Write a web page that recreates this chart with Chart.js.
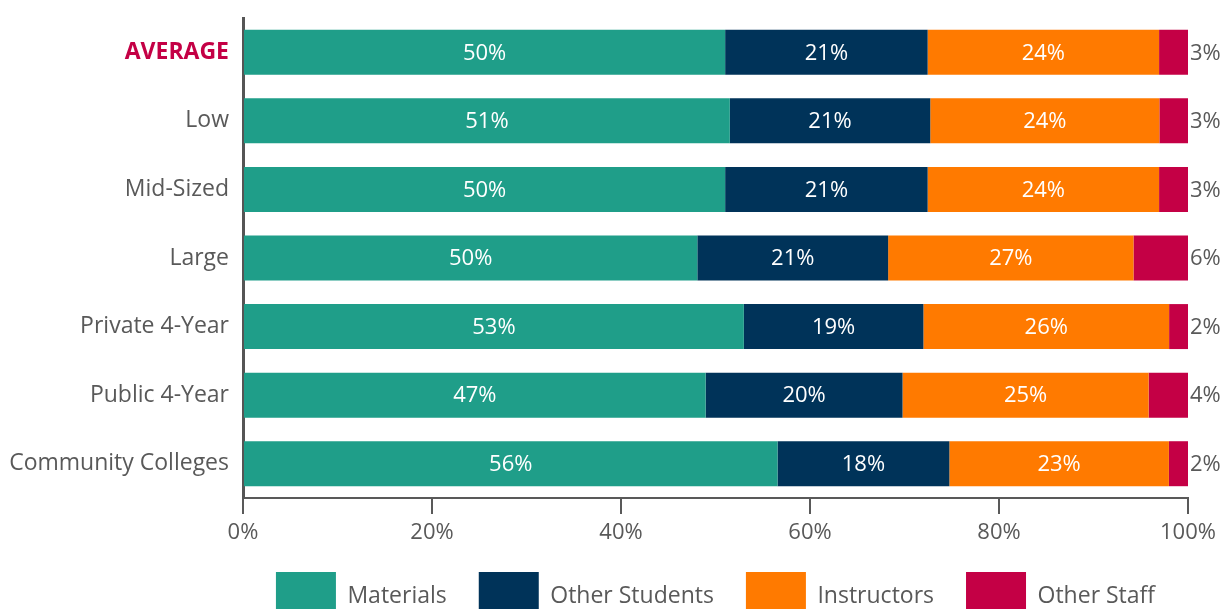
<!DOCTYPE html>
<html>
<head>
<meta charset="utf-8">
<script src="https://cdn.jsdelivr.net/npm/chart.js@4.4.1/dist/chart.umd.min.js"></script>
<style>
  html, body { margin: 0; padding: 0; background: #fff; overflow: hidden; }
  #wrap { position: relative; width: 1225px; height: 630px; }
</style>
</head>
<body>
<div id="wrap"><canvas id="barchart"></canvas></div>
<script>
// spending share by school type
var categories = ["AVERAGE", "Low", "Mid-Sized", "Large", "Private 4-Year", "Public 4-Year", "Community Colleges"];
var materials = [50, 51, 50, 50, 53, 47, 56];
var otherStudents = [21, 21, 21, 21, 19, 20, 18];
var instructors = [24, 24, 24, 27, 26, 25, 23];
var otherStaff = [3, 3, 3, 6, 2, 4, 2];
var xTicks = [0, 20, 40, 60, 80, 100];

var gray = "#595959";
var fontName = "'Open Sans', 'Noto Sans', sans-serif";

// rounded labels don't always add up to 100, so bars are drawn as share of row total
function share(values) {
  var out = [];
  for (let i = 0; i < values.length; i++) {
    var total = materials[i] + otherStudents[i] + instructors[i] + otherStaff[i];
    out.push(values[i] / total * 100);
  }
  return out;
}

function makeSet(label, values, color) {
  return {
    label: label,
    data: share(values),
    raw: values,
    backgroundColor: color,
    borderWidth: 0,
    barPercentage: 0.656,
    categoryPercentage: 1,
  };
}

// value labels: white inside the bars, gray after the last segment
var barLabels = {
  id: "barLabels",
  afterDatasetsDraw: function (chart) {
    var ctx = chart.ctx;
    var sets = chart.data.datasets;
    ctx.save();
    ctx.font = "22px " + fontName;
    ctx.textBaseline = "middle";
    for (let i = 0; i < sets.length; i++) {
      var meta = chart.getDatasetMeta(i);
      var last = i == sets.length - 1;
      meta.data.forEach(function (bar, j) {
        var text = sets[i].raw[j] + "%";
        if (last) {
          ctx.fillStyle = gray;
          ctx.textAlign = "left";
          ctx.fillText(text, bar.x + 2, bar.y + 1);
        } else {
          ctx.fillStyle = "#ffffff";
          ctx.textAlign = "center";
          ctx.fillText(text, (bar.x + bar.base) / 2, bar.y + 1);
        }
      });
    }
    ctx.restore();
  },
};

var chart1 = document.getElementById("barchart");
var myChart1 = new Chart(chart1, {
  type: "bar",
  data: {
    labels: categories,
    datasets: [
      makeSet("Materials", materials, "#1f9e89"),
      makeSet("Other Students", otherStudents, "#003359"),
      makeSet("Instructors", instructors, "#ff7a00"),
      makeSet("Other Staff", otherStaff, "#c40045"),
    ],
  },
  options: {
    indexAxis: "y",
    responsive: true,
    maintainAspectRatio: false,
    animation: false,
    layout: {
      padding: { top: 18, right: 37, left: 0, bottom: 0 },
    },
    scales: {
      x: {
        stacked: true,
        min: 0,
        max: 100,
        afterBuildTicks: function (scale) {
          scale.ticks = xTicks.map(function (v) { return { value: v }; });
        },
        afterFit: function (scale) {
          scale.height = 42;
        },
        grid: {
          drawOnChartArea: false,
          drawTicks: true,
          tickLength: 16,
          color: gray,
          lineWidth: 2,
        },
        border: { color: gray, width: 2 },
        ticks: {
          color: gray,
          padding: 6,
          maxRotation: 0,
          font: { family: fontName, size: 22 },
          callback: function (v) { return v + "%"; },
        },
      },
      y: {
        stacked: true,
        afterFit: function (scale) {
          // fixed label column, and no extra room above/below for label halves
          scale.width = 243;
          scale.paddingTop = 0;
          scale.paddingBottom = 0;
        },
        grid: { display: false, drawTicks: false },
        border: { color: "#555555", width: 3 },
        ticks: {
          padding: 14,
          color: function (c) { return c.index == 0 ? "#c40045" : gray; },
          font: function (c) {
            return { family: fontName, size: 23, weight: c.index == 0 ? "bold" : "normal" };
          },
        },
      },
    },
    plugins: {
      legend: {
        display: true,
        position: "bottom",
        fullSize: false,
        labels: {
          boxWidth: 60,
          boxHeight: 48,
          padding: 32,
          color: gray,
          font: { family: fontName, size: 23 },
        },
      },
      tooltip: { enabled: false },
    },
  },
  plugins: [barLabels],
});
</script>
</body>
</html>
